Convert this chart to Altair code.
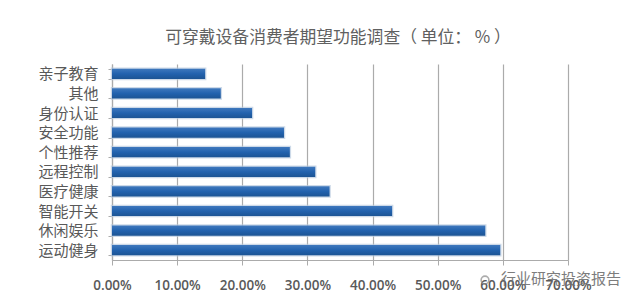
import altair as alt
import pandas as pd

categories = ["亲子教育", "其他", "身份认证", "安全功能", "个性推荐", "远程控制", "医疗健康", "智能开关", "休闲娱乐", "运动健身"]
values = [14.3, 16.7, 21.5, 26.4, 27.3, 31.2, 33.4, 43.0, 57.3, 59.6]
title_text = "可穿戴设备消费者期望功能调查（ 单位： % ）"
watermark = "行业研究投资报告"

df = pd.DataFrame({"cat": categories, "val": values})
FONT = "Noto Sans CJK SC"

x = alt.X("val:Q", scale=alt.Scale(domain=[0, 70], nice=False), title=None,
          axis=alt.Axis(values=[0, 10, 20, 30, 40, 50, 60, 70],
                        labelExpr="format(datum.value, '.2f') + '%'",
                        labelOverlap=False, labelFlush=False,
                        grid=True, gridColor="#ababab", gridWidth=1.2,
                        domainColor="#ababab", domainWidth=1.2,
                        tickColor="#ababab", tickSize=5,
                        labelFont="Open Sans", labelFontSize=13.5, labelColor="#595959",
                        labelFontWeight=600, labelPadding=13))
y = alt.Y("cat:N", sort=categories, title=None,
          scale=alt.Scale(paddingInner=0.48, paddingOuter=0.24),
          axis=alt.Axis(tickBand="extent", domainColor="#ababab", domainWidth=1.2,
                        tickColor="#ababab", tickSize=4,
                        labelFont=FONT, labelFontSize=15, labelColor="#595959", labelPadding=10))

shadow = alt.Chart(df).mark_bar(color="#b9cbe0", opacity=0.7, stroke="#b9cbe0", strokeWidth=2.5).encode(x=x, y=y)
bars = alt.Chart(df).mark_bar(
    color=alt.Gradient(gradient="linear", x1=0, x2=0, y1=0, y2=1,
                       stops=[alt.GradientStop(offset=0, color="#3f78bd"),
                              alt.GradientStop(offset=0.5, color="#2262ae"),
                              alt.GradientStop(offset=1, color="#1c5494")])
).encode(x=x, y=y)

mark_df = pd.DataFrame({"t": [watermark]})
wm = alt.Chart(mark_df).mark_text(font=FONT, fontSize=15, color="#6f6f6f", align="left", baseline="middle", opacity=0.9).encode(
    x=alt.value(389), y=alt.value(215), text="t:N")
icon = alt.Chart(mark_df).mark_point(shape="circle", size=60, color="#8a8a8a", strokeWidth=1.6, filled=False).encode(
    x=alt.value(373), y=alt.value(216))

chart = (shadow + bars + wm + icon).properties(
    width=456, height=196,
    autosize=alt.AutoSizeParams(type="none"),
    padding={"left": 104, "top": 56, "right": 64, "bottom": 39},
    title=alt.TitleParams(title_text, font=FONT, fontSize=16.8, fontWeight="normal", color="#606060",
                          anchor="middle", offset=10, dx=-2),
).configure_view(stroke=None)

chart.save("out.html", embed_options={"renderer": "svg", "actions": False})
